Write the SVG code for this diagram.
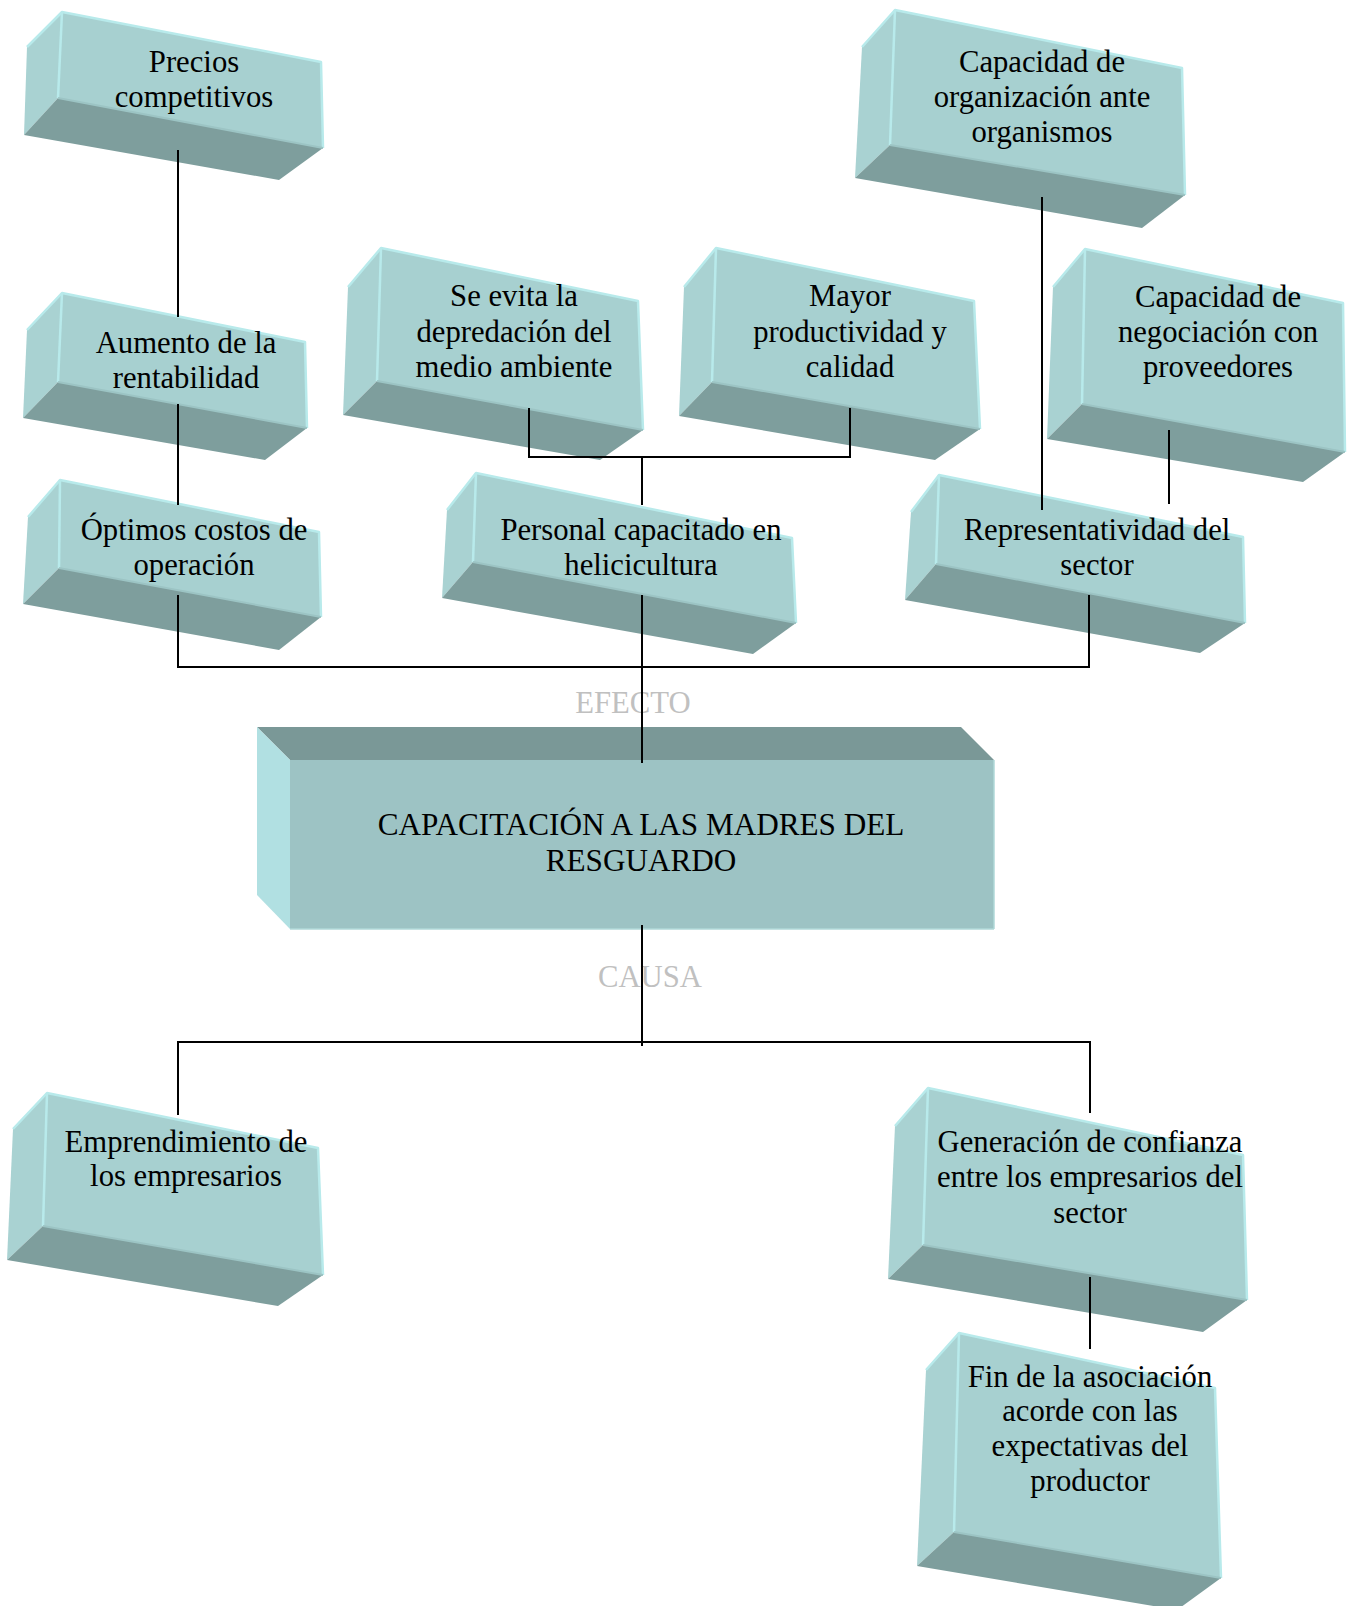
<svg xmlns="http://www.w3.org/2000/svg" width="1356" height="1606" viewBox="0 0 1356 1606">
<style>
.side{fill:#A9D2D2}
.front{fill:#A7D0D0}
.bottom{fill:#7E9E9D}
.hl{fill:none;stroke:#B8EAEB;stroke-width:2.5;stroke-linejoin:round}
.hl2{fill:none;stroke:#9CC4C4;stroke-width:2}
.t{font-family:"Liberation Serif","Times New Roman",serif;font-size:30.7px;fill:#000;text-anchor:middle}
.tc{font-family:"Liberation Serif","Times New Roman",serif;font-size:31.2px;fill:#000;text-anchor:middle}
.g{font-family:"Liberation Serif","Times New Roman",serif;font-size:30.7px;fill:#C0C0C0;text-anchor:middle}
.c{stroke:#000;stroke-width:2;fill:none}
</style>
<rect width="1356" height="1606" fill="#FFFFFF"/>

<g id="precios">
<polygon class="side" points="27,47 62,12 58,98 24,135"/>
<polygon class="bottom" points="24,135 58,98 323,148 279,180"/>
<polygon class="front" points="62,12 321,62 323,148 58,98"/>
<polyline class="hl" points="27,47 62,12 321,62 323,148"/>
<line class="hl" x1="62" y1="12" x2="58" y2="98"/>
<line class="hl2" x1="58" y1="98" x2="323" y2="148"/>
<text class="t" x="194" y="72">Precios</text>
<text class="t" x="194" y="107">competitivos</text>
</g>

<g id="aumento">
<polygon class="side" points="27,330 62,293 58,382 23,418"/>
<polygon class="bottom" points="23,418 58,382 307,428 265,460"/>
<polygon class="front" points="62,293 305,342 307,428 58,382"/>
<polyline class="hl" points="27,330 62,293 305,342 307,428"/>
<line class="hl" x1="62" y1="293" x2="58" y2="382"/>
<line class="hl2" x1="58" y1="382" x2="307" y2="428"/>
<text class="t" x="186" y="353">Aumento de la</text>
<text class="t" x="186" y="388">rentabilidad</text>
</g>

<g id="capacidad-organizacion">
<polygon class="side" points="862,47 895,10 890,145 855,178"/>
<polygon class="bottom" points="855,178 890,145 1185,195 1142,228"/>
<polygon class="front" points="895,10 1182,68 1185,195 890,145"/>
<polyline class="hl" points="862,47 895,10 1182,68 1185,195"/>
<line class="hl" x1="895" y1="10" x2="890" y2="145"/>
<line class="hl2" x1="890" y1="145" x2="1185" y2="195"/>
<text class="t" x="1042" y="72">Capacidad de</text>
<text class="t" x="1042" y="107">organización ante</text>
<text class="t" x="1042" y="142">organismos</text>
</g>

<g id="se-evita">
<polygon class="side" points="348,287 381,248 377,381 343,415"/>
<polygon class="bottom" points="343,415 377,381 643,430 600,460"/>
<polygon class="front" points="381,248 638,301 643,430 377,381"/>
<polyline class="hl" points="348,287 381,248 638,301 643,430"/>
<line class="hl" x1="381" y1="248" x2="377" y2="381"/>
<line class="hl2" x1="377" y1="381" x2="643" y2="430"/>
<text class="t" x="514" y="306">Se evita la</text>
<text class="t" x="514" y="342">depredación del</text>
<text class="t" x="514" y="377">medio ambiente</text>
</g>

<g id="mayor">
<polygon class="side" points="684,287 716,248 712,382 679,416"/>
<polygon class="bottom" points="679,416 712,382 980,429 935,460"/>
<polygon class="front" points="716,248 974,301 980,429 712,382"/>
<polyline class="hl" points="684,287 716,248 974,301 980,429"/>
<line class="hl" x1="716" y1="248" x2="712" y2="382"/>
<line class="hl2" x1="712" y1="382" x2="980" y2="429"/>
<text class="t" x="850" y="306">Mayor</text>
<text class="t" x="850" y="342">productividad y</text>
<text class="t" x="850" y="377">calidad</text>
</g>

<g id="capacidad-negociacion">
<polygon class="side" points="1053,287 1085,249 1082,404 1047,439"/>
<polygon class="bottom" points="1047,439 1082,404 1345,452 1303,482"/>
<polygon class="front" points="1085,249 1343,303 1345,452 1082,404"/>
<polyline class="hl" points="1053,287 1085,249 1343,303 1345,452"/>
<line class="hl" x1="1085" y1="249" x2="1082" y2="404"/>
<line class="hl2" x1="1082" y1="404" x2="1345" y2="452"/>
<text class="t" x="1218" y="307">Capacidad de</text>
<text class="t" x="1218" y="342">negociación con</text>
<text class="t" x="1218" y="377">proveedores</text>
</g>

<g id="optimos">
<polygon class="side" points="28,517 60,480 59,568 23,604"/>
<polygon class="bottom" points="23,604 59,568 321,617 279,650"/>
<polygon class="front" points="60,480 319,532 321,617 59,568"/>
<polyline class="hl" points="28,517 60,480 319,532 321,617"/>
<line class="hl" x1="60" y1="480" x2="59" y2="568"/>
<line class="hl2" x1="59" y1="568" x2="321" y2="617"/>
<text class="t" x="194" y="540">Óptimos costos de</text>
<text class="t" x="194" y="575">operación</text>
</g>

<g id="personal">
<polygon class="side" points="447,510 476,473 473,562 442,598"/>
<polygon class="bottom" points="442,598 473,562 796,623 753,654"/>
<polygon class="front" points="476,473 792,538 796,623 473,562"/>
<polyline class="hl" points="447,510 476,473 792,538 796,623"/>
<line class="hl" x1="476" y1="473" x2="473" y2="562"/>
<line class="hl2" x1="473" y1="562" x2="796" y2="623"/>
<text class="t" x="641" y="540">Personal capacitado en</text>
<text class="t" x="641" y="575">helicicultura</text>
</g>

<g id="representatividad">
<polygon class="side" points="911,512 939,475 936,564 905,600"/>
<polygon class="bottom" points="905,600 936,564 1245,623 1200,653"/>
<polygon class="front" points="939,475 1243,537 1245,623 936,564"/>
<polyline class="hl" points="911,512 939,475 1243,537 1245,623"/>
<line class="hl" x1="939" y1="475" x2="936" y2="564"/>
<line class="hl2" x1="936" y1="564" x2="1245" y2="623"/>
<text class="t" x="1097" y="540">Representatividad del</text>
<text class="t" x="1097" y="575">sector</text>
</g>

<g id="central">
<polygon fill="#7A9897" points="257,727 961,727 994,760 290,760"/>
<polygon fill="#B1E0E2" points="257,727 290,760 290,929 257,895"/>
<rect x="290" y="760" width="704" height="169" fill="#9DC3C4"/>
<line x1="290" y1="929" x2="994" y2="929" stroke="#B0D8D8" stroke-width="1.5"/>
<line x1="994" y1="760" x2="994" y2="929" stroke="#B0D8D8" stroke-width="1.5"/>
<text class="tc" x="641" y="835">CAPACITACIÓN A LAS MADRES DEL</text>
<text class="tc" x="641" y="871">RESGUARDO</text>
</g>

<g id="emprendimiento">
<polygon class="side" points="13,1129 47,1093 43,1226 7,1260"/>
<polygon class="bottom" points="7,1260 43,1226 323,1275 278,1306"/>
<polygon class="front" points="47,1093 318,1148 323,1275 43,1226"/>
<polyline class="hl" points="13,1129 47,1093 318,1148 323,1275"/>
<line class="hl" x1="47" y1="1093" x2="43" y2="1226"/>
<line class="hl2" x1="43" y1="1226" x2="323" y2="1275"/>
<text class="t" x="186" y="1152">Emprendimiento de</text>
<text class="t" x="186" y="1186">los empresarios</text>
</g>

<g id="generacion">
<polygon class="side" points="895,1126 928,1088 923,1245 888,1279"/>
<polygon class="bottom" points="888,1279 923,1245 1247,1300 1203,1332"/>
<polygon class="front" points="928,1088 1243,1155 1247,1300 923,1245"/>
<polyline class="hl" points="895,1126 928,1088 1243,1155 1247,1300"/>
<line class="hl" x1="928" y1="1088" x2="923" y2="1245"/>
<line class="hl2" x1="923" y1="1245" x2="1247" y2="1300"/>
<text class="t" x="1090" y="1152">Generación de confianza</text>
<text class="t" x="1090" y="1187">entre los empresarios del</text>
<text class="t" x="1090" y="1223">sector</text>
</g>

<g id="fin">
<polygon class="side" points="926,1370 959,1333 954,1532 917,1566"/>
<polygon class="bottom" points="917,1566 954,1532 1221,1578 1177,1610"/>
<polygon class="front" points="959,1333 1215,1388 1221,1578 954,1532"/>
<polyline class="hl" points="926,1370 959,1333 1215,1388 1221,1578"/>
<line class="hl" x1="959" y1="1333" x2="954" y2="1532"/>
<line class="hl2" x1="954" y1="1532" x2="1221" y2="1578"/>
<text class="t" x="1090" y="1387">Fin de la asociación</text>
<text class="t" x="1090" y="1421">acorde con las</text>
<text class="t" x="1090" y="1456">expectativas del</text>
<text class="t" x="1090" y="1491">productor</text>
</g>

<text class="g" x="633" y="713">EFECTO</text>
<text class="g" x="650" y="987">CAUSA</text>

<g id="connectors">
<line class="c" x1="178" y1="150" x2="178" y2="317"/>
<line class="c" x1="178" y1="404" x2="178" y2="505"/>
<line class="c" x1="178" y1="595" x2="178" y2="667"/>
<line class="c" x1="177" y1="667" x2="1090" y2="667"/>
<line class="c" x1="1089" y1="595" x2="1089" y2="667"/>
<line class="c" x1="529" y1="408" x2="529" y2="457"/>
<line class="c" x1="850" y1="408" x2="850" y2="457"/>
<line class="c" x1="528" y1="457" x2="851" y2="457"/>
<line class="c" x1="642" y1="457" x2="642" y2="505"/>
<line class="c" x1="642" y1="595" x2="642" y2="763"/>
<line class="c" x1="1042" y1="197" x2="1042" y2="510"/>
<line class="c" x1="1169" y1="430" x2="1169" y2="504"/>
<line class="c" x1="642" y1="925" x2="642" y2="1046"/>
<line class="c" x1="177" y1="1042" x2="1091" y2="1042"/>
<line class="c" x1="178" y1="1042" x2="178" y2="1115"/>
<line class="c" x1="1090" y1="1042" x2="1090" y2="1113"/>
<line class="c" x1="1090" y1="1277" x2="1090" y2="1349"/>
</g>
</svg>
